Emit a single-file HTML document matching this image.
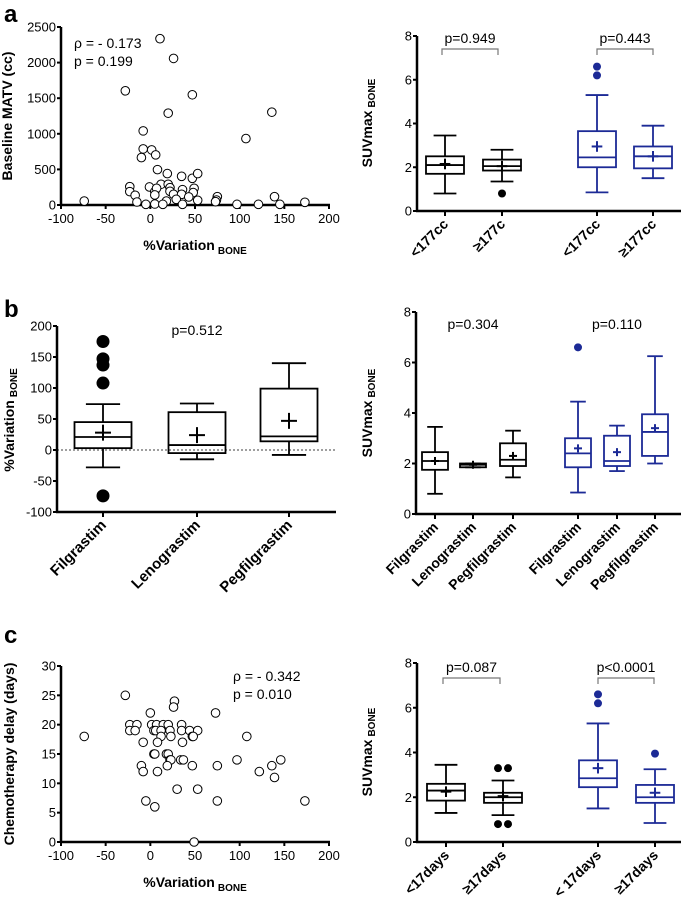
<!DOCTYPE html>
<html><head><meta charset="utf-8"><style>
html,body{margin:0;padding:0;background:#fff}
svg{display:block;font-family:"Liberation Sans",Arial,sans-serif}
</style></head><body>
<svg id="fig" width="685" height="903" viewBox="0 0 685 903" xmlns="http://www.w3.org/2000/svg">
<text x="4" y="22" font-size="24" font-weight="bold">a</text>
<text x="4" y="317" font-size="24" font-weight="bold">b</text>
<text x="4" y="643" font-size="24" font-weight="bold">c</text>
</svg>
<script>
// ---- data ----
const scatterAX=[10.8,26,-28,47,20,136,-8,107,-8,1.5,-10,6,8,19,35,47,53,-23,-1,12,20,22,-23,-17,5,7,22,36,49,48,5,26,35,43,75,139,74,73,-74,-15,18,29,53,-5,5,14,36,97,121,145,173];
const scatterAY=[2336,2059,1604,1548,1290,1304,1041,933,788,774,666,704,497,441,403,375,441,258,253,291,291,244,188,136,188,235,192,216,235,174,141,150,150,113,117,117,70,47,56,42,56,80,66,9,14,9,9,9,9,9,38];
const scatterCX=[-28,27,26,73,0,108,-74,-23,-15,-23,-17,1.5,7,14.5,20,35,4,6,12,22,35,44,53,12,23,47,48,-8,8,36,4,5,18,20,22,23,34,37,97,146,-10,19,47,75,136,-8,8,122,139,30,53,-5,75,173,5,49];
const scatterCY=[25,24,23,22,22,18,18,20,20,19,19,20,20,20,20,20,19,19,19,19,19,19,19,18,18,18,18,17,17,17,15,15,15,15,14,14,14,14,14,14,13,13,13,13,13,12,12,12,11,9,9,7,7,7,6,0];
const xTicksScatter=[-100,-50,0,50,100,150,200];
const yTicksA=[0,500,1000,1500,2000,2500];
const yTicksC=[0,5,10,15,20,25,30];
const yTicksB=[-100,-50,0,50,100,150,200];
const yTicksSUV=[0,2,4,6,8];
// box stats: [min,q1,median,q3,max,mean]
const boxA=[[0.8,1.7,2.1,2.5,3.45,2.15],[1.35,1.85,2.05,2.35,2.8,2.05],[0.85,2.0,2.45,3.65,5.3,2.95],[1.5,1.95,2.5,2.95,3.9,2.5]];
const outA=[[],[0.8],[6.2,6.6],[]];
const catA=["<177cc","\u2265177c","<177cc","\u2265177cc"];
const boxB=[[-28,3,21,45,74,28],[-15,-5,8,61,75,24],[-8,14,22,99,140,47]];
const outB=[[175,147,137,108,-74],[],[]];
const catB=["Filgrastim","Lenograstim","Pegfilgrastim"];
const boxB2=[[0.8,1.75,2.1,2.45,3.45,2.1],[1.85,1.85,1.95,2.0,2.0,1.95],[1.45,1.9,2.15,2.8,3.3,2.3],[0.85,1.85,2.4,3.0,4.45,2.6],[1.7,1.9,2.1,3.1,3.5,2.45],[2.0,2.3,3.25,3.95,6.25,3.4]];
const outB2=[[],[],[],[6.6],[],[]];
const catB2=["Filgrastim","Lenograstim","Pegfilgrastim","Filgrastim","Lenograstim","Pegfilgrastim"];
const boxC=[[1.3,1.85,2.3,2.6,3.45,2.25],[1.2,1.75,2.0,2.2,2.75,2.05],[1.5,2.45,2.85,3.65,5.3,3.3],[0.85,1.75,2.0,2.55,3.25,2.2]];
const outC=[[],[3.3,3.3,0.8,0.8],[6.2,6.6],[3.95]];
const catC=["<17days","\u226517days","< 17days","\u226517days"];

const NS="http://www.w3.org/2000/svg";
const svg=document.getElementById('fig');
const BLUE="#1c2a96";
function mk(tag,attrs,parent){const e=document.createElementNS(NS,tag);for(const k in attrs)e.setAttribute(k,attrs[k]);(parent||svg).appendChild(e);return e;}
function txt(s,attrs,parent){const e=mk('text',attrs,parent);e.textContent=s;return e;}
function lin(y0,y1,p0,p1){return v=>p0+(v-y0)/(y1-y0)*(p1-p0);}

function yAxis(g,x,ys,ticks,x2,name){
  const a=mk('line',{x1:x,x2:x,y1:ys(ticks[ticks.length-1]),y2:ys(ticks[0])+1,stroke:'#000','stroke-width':2.5},g);
  
  const b=mk('line',{x1:x-1,x2:x2,y1:ys(ticks[0]),y2:ys(ticks[0]),stroke:'#000','stroke-width':2.5},g);
  
  ticks.forEach(t=>{
    mk('line',{x1:x-4,x2:x,y1:ys(t),y2:ys(t),stroke:'#000','stroke-width':2},g);
    const l=txt(String(t),{x:x-5,y:ys(t)+4.5,'font-size':13,'text-anchor':'end'},g);
    
    
  });
}
function vTitle(g,x,y,main,sub,name,size){
  const t=mk('text',{transform:`translate(${x},${y}) rotate(-90)`,'font-size':size||14,'font-weight':'bold','text-anchor':'middle'},g);
  
  t.textContent=main;
  if(sub){const s=mk('tspan',{'font-size':10,dx:3,dy:3},t);s.textContent=sub;}
}

function scatter(name,X,Y,yT,ox,oy0,oy1,title,anno){
  const g=mk('g',{});
  const xs=lin(-100,200,61,329), ys=lin(yT[0],yT[yT.length-1],oy0,oy1);
  yAxis(g,61,ys,yT,330,name);
  xTicksScatter.forEach(t=>{
    mk('line',{x1:xs(t),x2:xs(t),y1:oy0,y2:oy0+4,stroke:'#000','stroke-width':2},g);
    const l=txt(String(t),{x:xs(t),y:oy0+18,'font-size':13,'text-anchor':'middle'},g);
    
    
  });
  X.forEach((v,i)=>{
    const c=mk('circle',{cx:xs(v),cy:ys(Y[i]),r:4.3,fill:'#fff',stroke:'#000','stroke-width':1},g);
    
    
  });
  const xt=mk('text',{x:195,y:oy0+45,'font-size':14,'font-weight':'bold','text-anchor':'middle'},g);
  
  xt.textContent='%Variation';const s=mk('tspan',{'font-size':10,dx:3,dy:4},xt);s.textContent='BONE';
  vTitle(g,ox,(oy0+oy1)/2,title,null,'y-axis-title',14);
  const a1=txt(anno[0],{x:anno[2],y:anno[3],'font-size':14},g);
  const a2=txt(anno[1],{x:anno[2],y:anno[3]+18,'font-size':14},g);
}

function boxes(name,stats,outs,cats,cx,w,colors,ys,ax,yT,x2,labelOpts){
  const g=mk('g',{});
  yAxis(g,ax,ys,yT,x2,name);
  const base=ys(yT[0]);
  stats.forEach((s,i)=>{
    const c=colors[i],x=cx[i],bw=w;
    const bg=mk('g',{stroke:c,'stroke-width':1.8,fill:'none'},g);
    
    
    mk('line',{x1:x,x2:x,y1:ys(s[4]),y2:ys(s[3])},bg);
    mk('line',{x1:x,x2:x,y1:ys(s[1]),y2:ys(s[0])},bg);
    mk('line',{x1:x-bw*0.3,x2:x+bw*0.3,y1:ys(s[4]),y2:ys(s[4])},bg);
    mk('line',{x1:x-bw*0.3,x2:x+bw*0.3,y1:ys(s[0]),y2:ys(s[0])},bg);
    mk('rect',{x:x-bw/2,y:ys(s[3]),width:bw,height:Math.max(1.5,ys(s[1])-ys(s[3]))},bg);
    mk('line',{x1:x-bw/2,x2:x+bw/2,y1:ys(s[2]),y2:ys(s[2])},bg);
    const m=ys(s[5]);
    const ps=Math.max(4,bw*0.14);
    mk('line',{x1:x-ps,x2:x+ps,y1:m,y2:m,'stroke-width':2},bg);
    mk('line',{x1:x,x2:x,y1:m-ps,y2:m+ps,'stroke-width':2},bg);
    const seen={};
    outs[i].forEach(v=>{
      const k=v.toFixed(2);seen[k]=(seen[k]||0)+1;
      let dx=0;
      if(outs[i].filter(u=>u===v).length>1) dx=(seen[k]===1?-5:5);
      const o=mk('circle',{cx:x+dx,cy:ys(v),r:labelOpts.r,fill:c},g);
      
      
    });
    mk('line',{x1:x,x2:x,y1:base,y2:base+5,stroke:'#000','stroke-width':2},g);
    const l=txt(cats[i],{transform:`translate(${x+4},${base+labelOpts.dy}) rotate(-45)`,'font-size':labelOpts.fs,'font-weight':labelOpts.fw,'text-anchor':'end'},g);
    
    
  });
  return g;
}
function bracket(g,x1,x2,y,label){
  const p=mk('path',{d:`M${x1},${y+6}V${y}H${x2}V${y+6}`,stroke:'#777','stroke-width':1.2,fill:'none'},g);
  
  const t=txt(label,{x:(x1+x2)/2,y:y-6,'font-size':14,'text-anchor':'middle'},g);
  
}

// Panel a
scatter('scatter-matv',scatterAX,scatterAY,yTicksA,12,205,27,'Baseline MATV (cc)',['\u03C1 = - 0.173','p = 0.199',74,48]);
const K='#000';
let ga=boxes('box-suv-matv',boxA,outA,catA,[445,502,597,653],38,[K,K,BLUE,BLUE],lin(0,8,211,36),417,yTicksSUV,681,{dy:14,fs:14,fw:600,r:4});
bracket(ga,442,498,49,'p=0.949');bracket(ga,597,653,49,'p=0.443');
vTitle(ga,372,123,'SUVmax','BONE','y-axis-title',14);

// Panel b left
let ysB=lin(-100,200,512,326);
let gb=boxes('box-variation-gcsf',boxB,outB,catB,[103,197,289],57,[K,K,K],ysB,57,yTicksB,336,{dy:14,fs:15,fw:'bold',r:6.5});
const zl=mk('line',{x1:57,x2:336,y1:ysB(0),y2:ysB(0),stroke:'#000','stroke-width':0.8,'stroke-dasharray':'2,2'},gb);

const pb=txt('p=0.512',{x:197,y:335,'font-size':14,'text-anchor':'middle'},gb);

vTitle(gb,14,420,'%Variation','BONE','y-axis-title',14);

// Panel b right
let gb2=boxes('box-suv-gcsf',boxB2,outB2,catB2,[435,473,513,578,617,655],26,[K,K,K,BLUE,BLUE,BLUE],lin(0,8,514,312),416,yTicksSUV,681,{dy:14,fs:14,fw:600,r:4});
const p1=txt('p=0.304',{x:473,y:329,'font-size':14,'text-anchor':'middle'},gb2);
const p2=txt('p=0.110',{x:617,y:329,'font-size':14,'text-anchor':'middle'},gb2);
vTitle(gb2,372,413,'SUVmax','BONE','y-axis-title',14);

// Panel c
scatter('scatter-delay',scatterCX,scatterCY,yTicksC,14,842,666,'Chemotherapy delay (days)',['\u03C1 = - 0.342','p = 0.010',233,681]);
let gc=boxes('box-suv-delay',boxC,outC,catC,[446,503,598,655],38,[K,K,BLUE,BLUE],lin(0,8,842,663),417,yTicksSUV,681,{dy:14,fs:14,fw:600,r:4});
bracket(gc,443,500,678,'p=0.087');bracket(gc,598,654,678,'p<0.0001');
vTitle(gc,372,752,'SUVmax','BONE','y-axis-title',14);
</script>
</body></html>
